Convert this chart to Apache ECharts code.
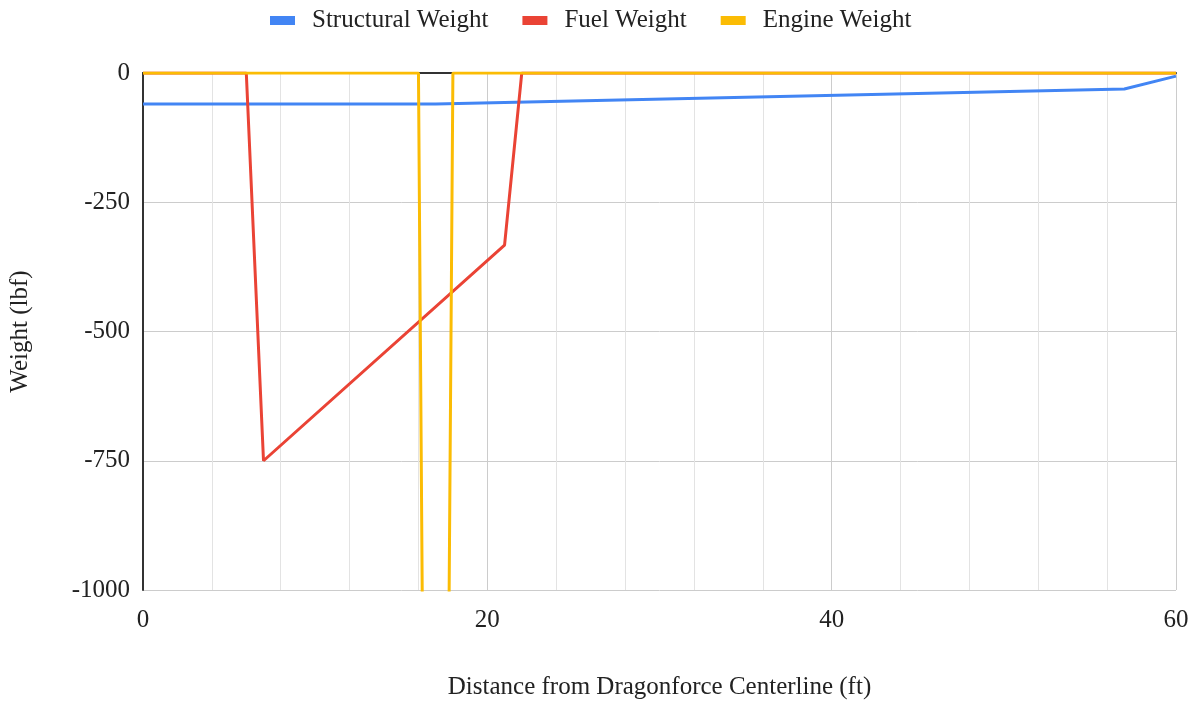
<!DOCTYPE html>
<html>
<head>
<meta charset="utf-8">
<script src="https://cdn.jsdelivr.net/npm/echarts@6/dist/echarts.min.js"></script>
<style>
  html, body { margin: 0; padding: 0; background: #fff; }
  #chart { width: 1198px; height: 702px; }
</style>
</head>
<body>
<div id="chart"></div>
<script>
// Load distribution along the span (ft from centerline, weight in lbf)
const seriesNames = ['Structural Weight', 'Fuel Weight', 'Engine Weight'];
const seriesColors = ['#4285F4', '#EA4335', '#FBBC04'];

const structuralX = [0, 17, 57, 60];
const structuralY = [-60, -60, -31, -6];

const fuelX = [0, 6, 7, 21, 22, 60];
const fuelY = [0, 0, -750, -333, 0, 0];

const engineX = [0, 16, 17, 18, 60];
const engineY = [0, 0, -4600, 0, 0];

const xTicks = { min: 0, max: 60, interval: 20, minorSplit: 5 };
const yTicks = { min: -1000, max: 0, interval: 250 };

const pairs = (xs, ys) => xs.map((x, i) => [x, ys[i]]);
const seriesData = [
  pairs(structuralX, structuralY),
  pairs(fuelX, fuelY),
  pairs(engineX, engineY)
];

const FONT = '"Liberation Serif", "DejaVu Serif", serif';
const TEXT = '#222';
const chart = echarts.init(document.getElementById('chart'), null, { renderer: 'canvas' });

chart.setOption({
  animation: false,
  textStyle: { fontFamily: FONT },
  legend: {
    top: 3,
    left: 265,
    icon: 'rect',
    itemWidth: 25,
    itemHeight: 9,
    itemGap: 34,
    textStyle: { fontFamily: FONT, fontSize: 25, color: TEXT, padding: [0, 0, 0, 12] },
    data: seriesNames
  },
  grid: {
    left: 143, right: 22, top: 73, bottom: 112,
    containLabel: false,
    outerBoundsMode: 'none'
  },
  xAxis: [
    {
      type: 'value',
      position: 'bottom',
      min: xTicks.min,
      max: xTicks.max,
      interval: xTicks.interval,
      name: 'Distance from Dragonforce Centerline (ft)',
      nameLocation: 'middle',
      nameGap: 85,
      nameTextStyle: { fontFamily: FONT, fontSize: 25, color: TEXT },
      axisLine: { show: false, onZero: false },
      axisTick: { show: false },
      axisLabel: { margin: 18, fontFamily: FONT, fontSize: 25, color: TEXT },
      splitLine: { show: true, lineStyle: { color: '#cccccc', width: 1 } },
      minorTick: { show: false, splitNumber: xTicks.minorSplit },
      minorSplitLine: { show: true, lineStyle: { color: '#e3e3e3', width: 1 } }
    },
    {
      type: 'value',
      position: 'top',
      min: xTicks.min,
      max: xTicks.max,
      interval: xTicks.interval,
      axisLine: { show: true, onZero: false, lineStyle: { color: '#333', width: 2 } },
      axisTick: { show: false },
      axisLabel: { show: false },
      splitLine: { show: false }
    }
  ],
  yAxis: {
    type: 'value',
    min: yTicks.min,
    max: yTicks.max,
    interval: yTicks.interval,
    name: 'Weight (lbf)',
    nameLocation: 'middle',
    nameGap: 110,
    nameTextStyle: { fontFamily: FONT, fontSize: 25, color: TEXT },
    axisLine: { show: true, onZero: false, lineStyle: { color: '#333', width: 2 } },
    axisTick: { show: false },
    axisLabel: {
      margin: 13,
      fontFamily: FONT,
      fontSize: 25,
      color: TEXT,
      formatter: (v) => String(v)
    },
    splitLine: { show: true, lineStyle: { color: '#cccccc', width: 1 } }
  },
  series: seriesNames.map((name, i) => ({
    name,
    type: 'line',
    xAxisIndex: 0,
    data: seriesData[i],
    showSymbol: false,
    symbol: 'none',
    clip: true,
    color: seriesColors[i],
    lineStyle: { color: seriesColors[i], width: 3 },
    z: 2 + i
  }))
});
</script>
</body>
</html>
